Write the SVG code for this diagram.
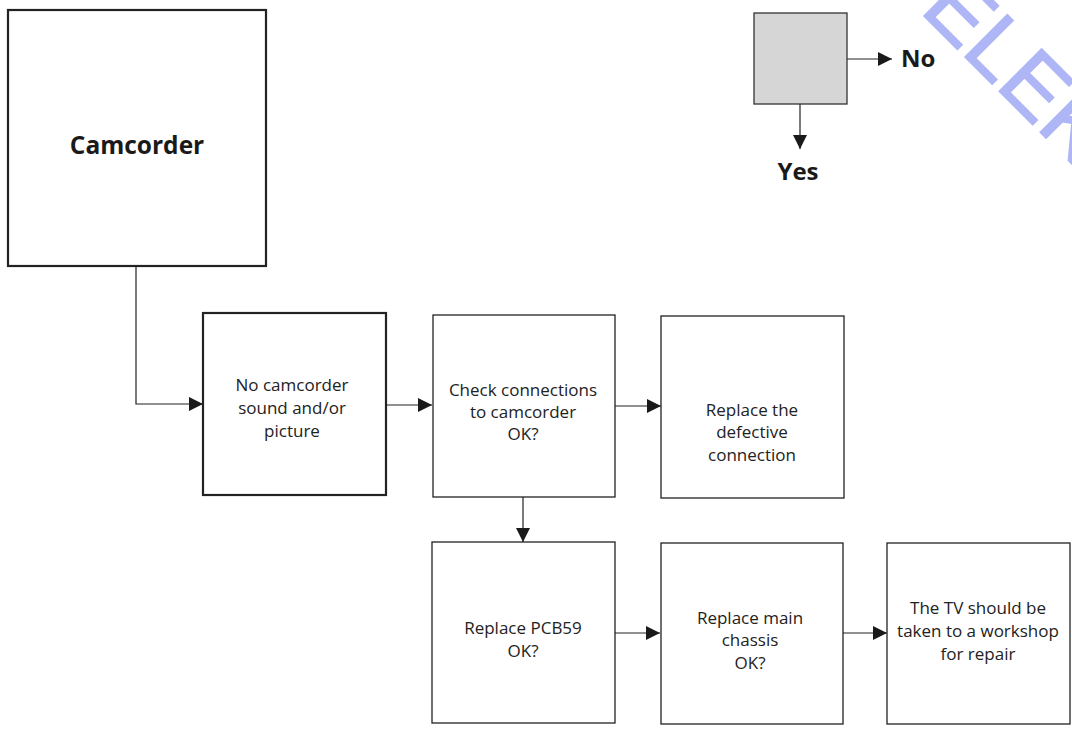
<svg xmlns="http://www.w3.org/2000/svg" width="1072" height="730" viewBox="0 0 1072 730">
<style>
.box{fill:#fff;stroke:#222;stroke-width:1.3}
.thick{stroke-width:2.2}
.t{font-family:"Open Sans","Noto Sans","Liberation Sans",sans-serif;font-size:17px;fill:#222;text-anchor:middle}
.b{font-family:"Open Sans","Noto Sans","Liberation Sans",sans-serif;font-size:24px;font-weight:bold;fill:#1a1a1a}
.c{fill:none;stroke:#222;stroke-width:1.2}
</style>
<defs>
<marker id="ah" markerUnits="userSpaceOnUse" markerWidth="16" markerHeight="16" viewBox="0 0 16 16" refX="15" refY="8" orient="auto">
<path d="M1,1 L15,8 L1,15 Z" fill="#1a1a1a"/>
</marker>
</defs>
<g id="watermark">
<text x="919" y="11" transform="rotate(45 919 11)" font-family="Liberation Sans, sans-serif" font-size="87" fill="#aeb6f6" stroke="#aeb6f6" stroke-width="1.6">ELEK</text>
</g>
<g id="connectors">
<path class="c" d="M136,266 V404 H203" marker-end="url(#ah)"/>
<path class="c" d="M386,405 H432" marker-end="url(#ah)"/>
<path class="c" d="M615,406 H661" marker-end="url(#ah)"/>
<path class="c" d="M523,497 V542" marker-end="url(#ah)"/>
<path class="c" d="M615,633 H660" marker-end="url(#ah)"/>
<path class="c" d="M843,633 H887" marker-end="url(#ah)"/>
<path class="c" d="M847,59 H892" marker-end="url(#ah)"/>
<path class="c" d="M800,104 V149" marker-end="url(#ah)"/>
</g>
<g id="legend">
<rect x="754" y="13" width="93" height="91" fill="#d6d6d6" stroke="#333" stroke-width="1.3"/>
<text class="b" x="901" y="67">No</text>
<text class="b" x="798" y="180" text-anchor="middle">Yes</text>
</g>
<g id="camcorder">
<rect class="box thick" x="8" y="10" width="258" height="256"/>
<text class="b" x="137" y="154" text-anchor="middle" style="font-size:24.5px">Camcorder</text>
</g>
<g id="no-sound">
<rect class="box thick" x="203" y="313" width="183" height="182"/>
<text class="t" x="292" y="391">No camcorder</text>
<text class="t" x="292" y="414">sound and/or</text>
<text class="t" x="292" y="437">picture</text>
</g>
<g id="check-connections">
<rect class="box" x="433" y="315" width="182" height="182"/>
<text class="t" x="523" y="396">Check connections</text>
<text class="t" x="523" y="418">to camcorder</text>
<text class="t" x="523" y="440">OK?</text>
</g>
<g id="replace-connection">
<rect class="box" x="661" y="316" width="183" height="182"/>
<text class="t" x="752" y="416">Replace the</text>
<text class="t" x="752" y="438">defective</text>
<text class="t" x="752" y="461">connection</text>
</g>
<g id="replace-pcb59">
<rect class="box" x="432" y="542" width="183" height="181"/>
<text class="t" x="523" y="634">Replace PCB59</text>
<text class="t" x="523" y="657">OK?</text>
</g>
<g id="replace-chassis">
<rect class="box" x="661" y="543" width="182" height="181"/>
<text class="t" x="750" y="624">Replace main</text>
<text class="t" x="750" y="646">chassis</text>
<text class="t" x="750" y="669">OK?</text>
</g>
<g id="workshop">
<rect class="box" x="887" y="543" width="183" height="181"/>
<text class="t" x="978" y="614">The TV should be</text>
<text class="t" x="978" y="637">taken to a workshop</text>
<text class="t" x="978" y="660">for repair</text>
</g>
</svg>
